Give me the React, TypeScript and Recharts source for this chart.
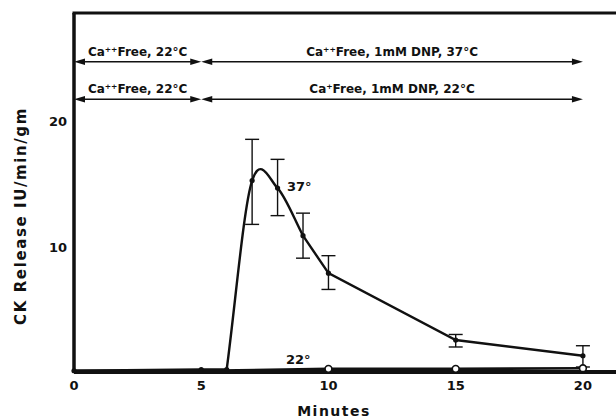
import React from "react";
import {
  LineChart,
  Line,
  XAxis,
  YAxis,
  ErrorBar,
  ReferenceLine,
  ReferenceDot,
  Label,
} from "recharts";

// ---- data ----
const times37 = [0, 5, 6, 7, 8, 9, 10, 15, 20];
const release37 = [0.1, 0.2, 0.2, 15.3, 14.7, 10.9, 7.9, 2.56, 1.3];
const errTop37 = [null, null, null, 18.6, 17.0, 12.7, 9.3, 3.0, 2.1];
const errBottom37 = [null, null, null, 11.8, 12.5, 9.1, 6.6, 2.0, 0.4];

const times22 = [0, 5, 10, 15, 20];
const release22 = [0.1, 0.1, 0.25, 0.25, 0.3];

const xTicks = [0, 5, 10, 15, 20];
const yTicks = [10, 20];
const xMax = 21.3;
const yMax = 28.7;

const phaseStart = [0, 5];
const phaseEnd = [5, 20];
const row1Labels = ["Ca⁺⁺Free, 22°C", "Ca⁺⁺Free, 1mM DNP, 37°C"];
const row2Labels = ["Ca⁺⁺Free, 22°C", "Ca⁺Free, 1mM DNP, 22°C"];
const rowLevels = [24.8, 21.8];

const curveLabels = ["37°", "22°"];
const curveLabelX = [8.37, 8.33];
const curveLabelY = [14.5, 0.65];

// ---- tables ----
const data37 = times37.map((t, i) => ({
  t,
  v: release37[i],
  err:
    errTop37[i] == null
      ? undefined
      : [release37[i] - (errBottom37[i] as number), (errTop37[i] as number) - release37[i]],
}));
const data22 = times22.map((t, i) => ({ t, v: release22[i] }));

const FONT = "'DejaVu Sans', sans-serif";
const INK = "#111";

// custom curve: straight segments, smooth around the peak
function peakCurve(context: any) {
  let pts: number[][] = [];
  return {
    areaStart() {},
    areaEnd() {},
    lineStart() {
      pts = [];
    },
    point(x: number, y: number) {
      pts.push([+x, +y]);
    },
    lineEnd() {
      const n = pts.length;
      if (!n) return;
      let k = 0;
      for (let i = 1; i < n; i++) if (pts[i][1] < pts[k][1]) k = i;
      const chord = (a: number, b: number) =>
        (pts[b][1] - pts[a][1]) / (pts[b][0] - pts[a][0]);
      const cr = (j: number) =>
        j > 0 && j < n - 1 ? chord(j - 1, j + 1) : chord(Math.max(0, j - 1), Math.min(n - 1, j + 1));
      context.moveTo(pts[0][0], pts[0][1]);
      for (let i = 0; i < n - 1; i++) {
        const smooth = k > 0 && k < n - 1 && (i === k - 1 || i === k || i === k + 1);
        const [x0, y0] = pts[i];
        const [x1, y1] = pts[i + 1];
        if (!smooth) {
          context.lineTo(x1, y1);
          continue;
        }
        let t0: number, t1: number;
        if (i === k - 1) {
          t0 = chord(i, i + 1);
          t1 = cr(k) * 0.85;
        } else if (i === k) {
          t0 = cr(k) * 0.85;
          t1 = cr(k + 1);
        } else {
          t0 = cr(k + 1);
          t1 = chord(i, i + 1);
        }
        const dx = (x1 - x0) / 3;
        context.bezierCurveTo(x0 + dx, y0 + t0 * dx, x1 - dx, y1 - t1 * dx, x1, y1);
      }
    },
  };
}

const arrowShape = (label: string) => (props: any) => {
  const { x1, y1, x2, y2 } = props;
  const h = 11;
  const w = 3.2;
  return (
    <g>
      <line x1={x1 + h - 1} y1={y1} x2={x2 - h + 1} y2={y2} stroke={INK} strokeWidth={1.4} />
      <polygon points={`${x1},${y1} ${x1 + h},${y1 - w} ${x1 + h},${y1 + w}`} fill={INK} />
      <polygon points={`${x2},${y2} ${x2 - h},${y2 - w} ${x2 - h},${y2 + w}`} fill={INK} />
      <text
        x={(x1 + x2) / 2}
        y={y1 - 6}
        textAnchor="middle"
        fontFamily={FONT}
        fontWeight="bold"
        fontSize={12}
        fill={INK}
      >
        {label}
      </text>
    </g>
  );
};

const frameShape = (props: any) => {
  const { x1, y1, x2, y2 } = props;
  return <line x1={x1 - 1.5} y1={y1} x2={x2} y2={y2} stroke={INK} strokeWidth={3} />;
};

const textShape = (label: string) => (props: any) => (
  <text
    x={props.cx}
    y={props.cy}
    fontFamily={FONT}
    fontWeight="bold"
    fontSize={13}
    fill={INK}
  >
    {label}
  </text>
);

const Dot37 = (props: any) => {
  const { cx, cy } = props;
  if (cx == null || cy == null) return <g />;
  return <circle cx={cx} cy={cy} r={2.6} fill={INK} stroke="none" />;
};

const Dot22 = (props: any) => {
  const { cx, cy, payload } = props;
  if (cx == null || cy == null || payload.t <= 6) return <g />;
  return <circle cx={cx} cy={cy} r={3.4} fill="#fff" stroke={INK} strokeWidth={1.6} />;
};

export default function App() {
  return (
    <div
      style={{
        position: "absolute",
        left: 0,
        top: 0,
        width: 616,
        height: 419,
        background: "#fff",
      }}
    >
      <LineChart
        width={616}
        height={419}
        margin={{ top: 13, right: 0, bottom: 0, left: 0 }}
      >
        <XAxis
          type="number"
          dataKey="t"
          domain={[0, xMax]}
          ticks={xTicks}
          height={47}
          tickLine={false}
          tickSize={0}
          tickMargin={9}
          axisLine={{ stroke: INK, strokeWidth: 4 }}
          tick={{ fill: INK, fontFamily: FONT, fontWeight: "bold", fontSize: 13 }}
          label={
            <Label
              content={() => (
                <text
                  x={334}
                  y={416}
                  textAnchor="middle"
                  fontFamily={FONT}
                  fontWeight="bold"
                  fontSize={14}
                  letterSpacing={1.5}
                  fill={INK}
                >
                  Minutes
                </text>
              )}
            />
          }
        />
        <YAxis
          type="number"
          domain={[0, yMax]}
          ticks={yTicks}
          width={74}
          tickLine={false}
          tickSize={0}
          tickMargin={7}
          axisLine={{ stroke: INK, strokeWidth: 3.5 }}
          tick={{ fill: INK, fontFamily: FONT, fontWeight: "bold", fontSize: 13 }}
          label={
            <Label
              content={() => (
                <text
                  x={21}
                  y={216}
                  transform="rotate(-90 21 216)"
                  textAnchor="middle"
                  dominantBaseline="central"
                  fontFamily={FONT}
                  fontWeight="bold"
                  fontSize={15}
                  letterSpacing={1.6}
                  fill={INK}
                >
                  CK Release IU/min/gm
                </text>
              )}
            />
          }
        />
        <ReferenceLine
          segment={[
            { x: 0, y: yMax },
            { x: xMax, y: yMax },
          ]}
          ifOverflow="visible"
          shape={frameShape}
        />
        {phaseStart.map((s, i) => (
          <ReferenceLine
            key={`r1-${i}`}
            segment={[
              { x: s, y: rowLevels[0] },
              { x: phaseEnd[i], y: rowLevels[0] },
            ]}
            ifOverflow="visible"
            shape={arrowShape(row1Labels[i])}
          />
        ))}
        {phaseStart.map((s, i) => (
          <ReferenceLine
            key={`r2-${i}`}
            segment={[
              { x: s, y: rowLevels[1] },
              { x: phaseEnd[i], y: rowLevels[1] },
            ]}
            ifOverflow="visible"
            shape={arrowShape(row2Labels[i])}
          />
        ))}
        <Line
          data={data22}
          dataKey="v"
          type="linear"
          stroke={INK}
          strokeWidth={2.6}
          dot={<Dot22 />}
          activeDot={false}
          isAnimationActive={false}
        />
        <Line
          data={data37}
          dataKey="v"
          type={peakCurve as any}
          stroke={INK}
          strokeWidth={2.4}
          dot={<Dot37 />}
          activeDot={false}
          isAnimationActive={false}
        >
          <ErrorBar dataKey="err" width={7} stroke={INK} strokeWidth={1.4} direction="y" />
        </Line>
        {curveLabels.map((lab, i) => (
          <ReferenceDot
            key={lab}
            x={curveLabelX[i]}
            y={curveLabelY[i]}
            r={0}
            ifOverflow="visible"
            shape={textShape(lab)}
          />
        ))}
      </LineChart>
    </div>
  );
}
